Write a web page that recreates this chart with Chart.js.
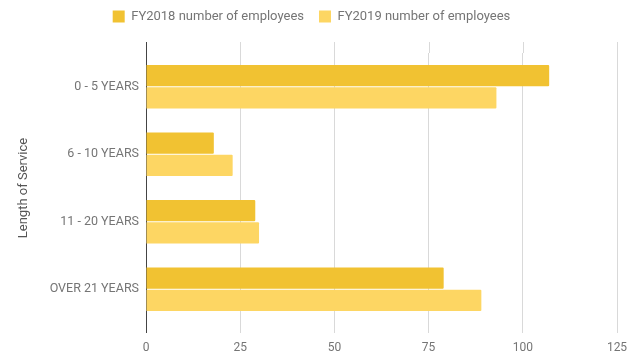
<!DOCTYPE html>
<html>
<head>
<meta charset="utf-8">
<script src="https://cdn.jsdelivr.net/npm/chart.js@4.4.1/dist/chart.umd.min.js"></script>
<style>
  html, body { margin: 0; padding: 0; background: #fff; }
  #wrap { width: 629px; height: 356px; }
</style>
</head>
<body>
<div id="wrap"><canvas id="chart"></canvas></div>
<script>
/* ---------- Data ---------- */
const categories = ['0 - 5 YEARS', '6 - 10 YEARS', '11 - 20 YEARS', 'OVER 21 YEARS'];
const fy2018 = [107, 18, 29, 79];
const fy2019 = [93, 23, 30, 89];
const seriesLabels = ['FY2018 number of employees', 'FY2019 number of employees'];
const xTicks = [0, 25, 50, 75, 100, 125];

const FONT = 'Roboto, "Noto Sans", sans-serif';
const TEXT = '#757575';
const GRID = '#d9d9d9';
const AXIS = '#444';

/* ---------- Plugins ---------- */
// extra room under the legend
const legendMargin = {
  id: 'legendMargin',
  beforeInit(chart) {
    const fit = chart.legend.fit;
    chart.legend.fit = function () {
      fit.call(this);
      this.height += 20;
    };
  },
};

// grid lines and the axis line run a bit past the plot edges
const gridOverhang = {
  id: 'gridOverhang',
  afterDraw(chart) {
    const { ctx, chartArea, scales } = chart;
    ctx.save();
    ctx.lineWidth = 1;
    xTicks.forEach(v => {
      const px = Math.round(scales.x.getPixelForValue(v)) + 0.5;
      ctx.strokeStyle = v === 0 ? AXIS : GRID;
      ctx.beginPath();
      ctx.moveTo(px, chartArea.top - 11);
      ctx.lineTo(px, chartArea.top);
      ctx.stroke();
    });
    const x0 = Math.round(scales.x.getPixelForValue(0)) + 0.5;
    ctx.strokeStyle = AXIS;
    ctx.beginPath();
    ctx.moveTo(x0, chartArea.bottom);
    ctx.lineTo(x0, chartArea.bottom + 10);
    ctx.stroke();
    ctx.restore();
  },
};

new Chart(document.getElementById('chart'), {
  type: 'bar',
  data: {
    labels: categories,
    datasets: [
      {
        label: seriesLabels[0],
        data: fy2018,
        backgroundColor: '#f1c232',
        categoryPercentage: 0.66,
        barPercentage: 0.95,
        borderRadius: 1,
      },
      {
        label: seriesLabels[1],
        data: fy2019,
        backgroundColor: '#fdd663',
        categoryPercentage: 0.66,
        barPercentage: 0.95,
        borderRadius: 1,
      },
    ],
  },
  options: {
    indexAxis: 'y',
    responsive: true,
    maintainAspectRatio: false,
    animation: false,
    layout: { padding: { top: -5, right: 12, bottom: 0, left: 6 } },
    plugins: {
      legend: {
        position: 'top',
        labels: {
          boxWidth: 12,
          boxHeight: 12,
          padding: 15,
          color: TEXT,
          font: { size: 13, family: FONT },
        },
      },
      tooltip: { enabled: false },
    },
    scales: {
      x: {
        type: 'linear',
        min: 0,
        max: 125,
        afterBuildTicks(scale) { scale.ticks = xTicks.map(v => ({ value: v })); },
        afterFit(scale) {
          scale.height = 33;
          scale.paddingLeft = 0;
          scale.paddingRight = 0;
        },
        border: { display: false },
        grid: { color: GRID, tickLength: 10, tickColor: GRID },
        ticks: { color: TEXT, padding: 8, font: { size: 12, family: FONT } },
      },
      y: {
        afterFit(scale) { scale.width = 140; },
        border: { display: true, color: AXIS, width: 1 },
        grid: { display: false, drawTicks: false },
        ticks: { color: TEXT, padding: 7, font: { size: 12.5, family: FONT } },
        title: {
          display: true,
          text: 'Length of Service',
          color: '#555',
          padding: { top: 10, bottom: 14 },
          font: { size: 13, family: FONT },
        },
      },
    },
  },
  plugins: [legendMargin, gridOverhang],
});
</script>
</body>
</html>
